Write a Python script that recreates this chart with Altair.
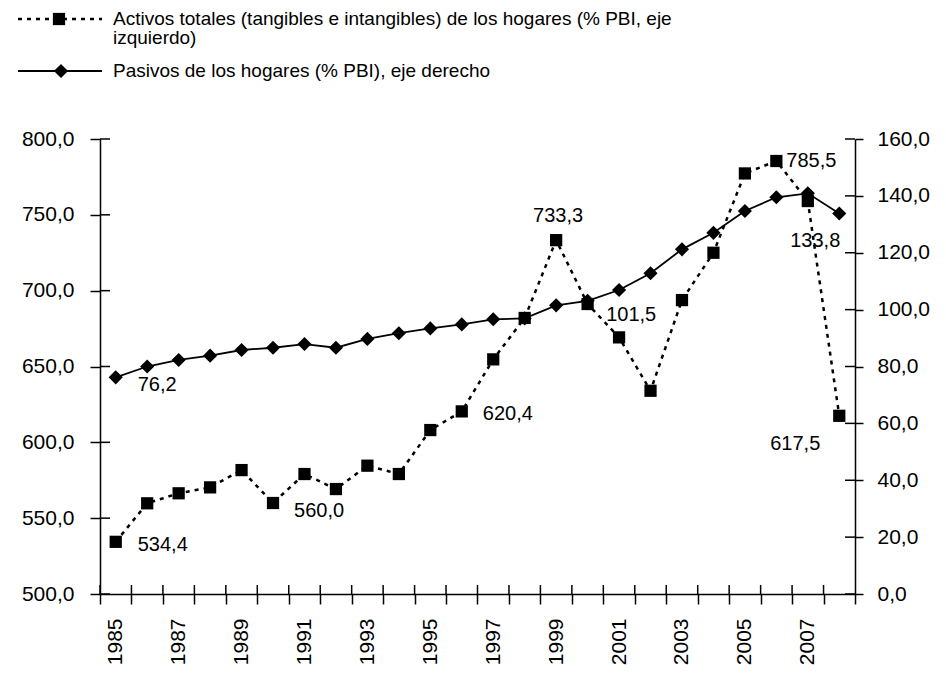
import altair as alt
import pandas as pd

years = [str(y) for y in range(1985, 2009)]
activos = [534.4, 559.8, 566.4, 570.3, 581.7, 560.0, 579.1, 569.2, 584.6, 579.1,
           608.1, 620.4, 654.7, 682.0, 733.3, 691.2, 669.2, 634.0, 693.8, 725.0,
           777.3, 785.5, 759.1, 617.5]
pasivos = [76.2, 80.0, 82.3, 83.8, 85.8, 86.6, 87.9, 86.6, 89.7, 91.7,
           93.4, 94.8, 96.6, 96.9, 101.5, 103.1, 106.9, 112.8, 121.2, 127.0,
           134.7, 139.5, 140.9, 133.8]
left_ticks = [500, 550, 600, 650, 700, 750, 800]
right_ticks = [0, 20, 40, 60, 80, 100, 120, 140, 160]
legend_activos = ["Activos totales (tangibles e intangibles) de los hogares (% PBI, eje", "izquierdo)"]
legend_pasivos = "Pasivos de los hogares (% PBI), eje derecho"

# labelled points: (year, dx, dy, align)
act_labels = [("1985", 22, 3, "left"), ("1990", 21, 8, "left"), ("1996", 21, 3, "left"),
              ("1999", 2, -24, "center"), ("2006", 10, 0, "left"), ("2008", -19, 28, "right")]
pas_labels = [("1985", 22, 8, "left"), ("1999", 50, 10, "left"), ("2008", 1, 27, "right")]

df = pd.DataFrame({"year": years, "activos": activos, "pasivos": pasivos})
W, H = 755, 455
FONT = "Liberation Sans Narrow, Liberation Sans, Arial"
FMT = "replace(format(datum.value, '.1f'), '.', ',')"

xenc = alt.X("year:O", scale=alt.Scale(type="band", paddingInner=0, paddingOuter=0),
             axis=alt.Axis(title=None, tickBand="extent", labelAngle=270, tickSize=10,
                           labelPadding=14, domainColor="black", tickColor="black",
                           domainWidth=1.5, tickWidth=1.5, grid=False,
                           labelExpr="toNumber(datum.value) % 2 == 1 ? datum.label : ''"))

yl = alt.Y("activos:Q", scale=alt.Scale(domain=[500, 800], nice=False, zero=False),
           axis=alt.Axis(title=None, values=left_ticks, labelExpr=FMT, tickSize=10,
                         labelPadding=16, domainColor="black", tickColor="black",
                         domainWidth=1.5, tickWidth=1.5, grid=False, orient="left"))
yr = alt.Y("pasivos:Q", scale=alt.Scale(domain=[0, 160], nice=False),
           axis=alt.Axis(title=None, values=right_ticks, labelExpr=FMT, tickSize=8,
                         labelPadding=14, domainColor="black", tickColor="black",
                         domainWidth=1.5, tickWidth=1.5, grid=False, orient="right"))

base = alt.Chart(df)

act_line = base.mark_line(color="black", strokeDash=[4, 5], strokeWidth=2.5).encode(x=xenc, y=yl)
act_pts = base.mark_point(shape="square", filled=True, color="black", size=150, opacity=1).encode(x=xenc, y=yl)
left_inner = alt.Chart(pd.DataFrame({"v": left_ticks})).mark_rule(color="black", strokeWidth=1.5).encode(
    y=alt.Y("v:Q"), x=alt.value(0), x2=alt.value(10))
act_layers = [act_line, act_pts, left_inner]
for yr_, dx, dy, al in act_labels:
    act_layers.append(
        base.transform_filter(alt.datum.year == yr_)
        .transform_calculate(lbl="replace(format(datum.activos, '.1f'), '.', ',')")
        .mark_text(align=al, baseline="middle", dx=dx, dy=dy, fontSize=20, font=FONT, color="black")
        .encode(x=xenc, y=yl, text="lbl:N"))
left_group = alt.layer(*act_layers)

pas_line = base.mark_line(color="black", strokeWidth=1.8).encode(x=xenc, y=yr)
pas_pts = base.mark_point(shape="diamond", filled=True, color="black", size=200, opacity=1).encode(x=xenc, y=yr)
right_inner = alt.Chart(pd.DataFrame({"v": right_ticks})).mark_rule(color="black", strokeWidth=1.5).encode(
    y=alt.Y("v:Q"), x=alt.value(W - 10), x2=alt.value(W))
pas_layers = [pas_line, pas_pts, right_inner]
for yr_, dx, dy, al in pas_labels:
    pas_layers.append(
        base.transform_filter(alt.datum.year == yr_)
        .transform_calculate(lbl="replace(format(datum.pasivos, '.1f'), '.', ',')")
        .mark_text(align=al, baseline="middle", dx=dx, dy=dy, fontSize=20, font=FONT, color="black")
        .encode(x=xenc, y=yr, text="lbl:N"))
right_group = alt.layer(*pas_layers)

x_inner = base.mark_rule(color="black", strokeWidth=1.5).encode(
    x=alt.X("year:O", scale=alt.Scale(type="band", paddingInner=0, paddingOuter=0), bandPosition=0),
    y=alt.value(H - 9), y2=alt.value(H))

one = pd.DataFrame({"k": [0]})
leg = alt.Chart(one)
leg_layers = [
    leg.mark_rule(color="black", strokeDash=[4, 5], strokeWidth=2.5).encode(
        x=alt.value(-82), x2=alt.value(2), y=alt.value(-120)),
    leg.mark_point(shape="square", filled=True, color="black", size=150, opacity=1).encode(
        x=alt.value(-41), y=alt.value(-120)),
    leg.mark_text(align="left", baseline="middle", fontSize=19, font=FONT, color="black").encode(
        x=alt.value(13), y=alt.value(-120), text=alt.value(legend_activos[0])),
    leg.mark_text(align="left", baseline="middle", fontSize=19, font=FONT, color="black").encode(
        x=alt.value(13), y=alt.value(-101), text=alt.value(legend_activos[1])),
    leg.mark_rule(color="black", strokeWidth=1.8).encode(
        x=alt.value(-82), x2=alt.value(2), y=alt.value(-68)),
    leg.mark_point(shape="diamond", filled=True, color="black", size=200, opacity=1).encode(
        x=alt.value(-39), y=alt.value(-68)),
    leg.mark_text(align="left", baseline="middle", fontSize=19, font=FONT, color="black").encode(
        x=alt.value(13), y=alt.value(-68), text=alt.value(legend_pasivos)),
]

chart = alt.layer(left_group, right_group, x_inner, *leg_layers).resolve_scale(y="independent").properties(
    width=W, height=H,
    padding={"left": 92, "top": 131, "right": 80, "bottom": 74},
    autosize=alt.AutoSizeParams(type="none"),
).configure_view(stroke=None).configure_axis(
    labelFont=FONT, labelFontSize=21, labelColor="black"
)

chart.save("out.html", embed_options={"renderer": "svg", "actions": False})
